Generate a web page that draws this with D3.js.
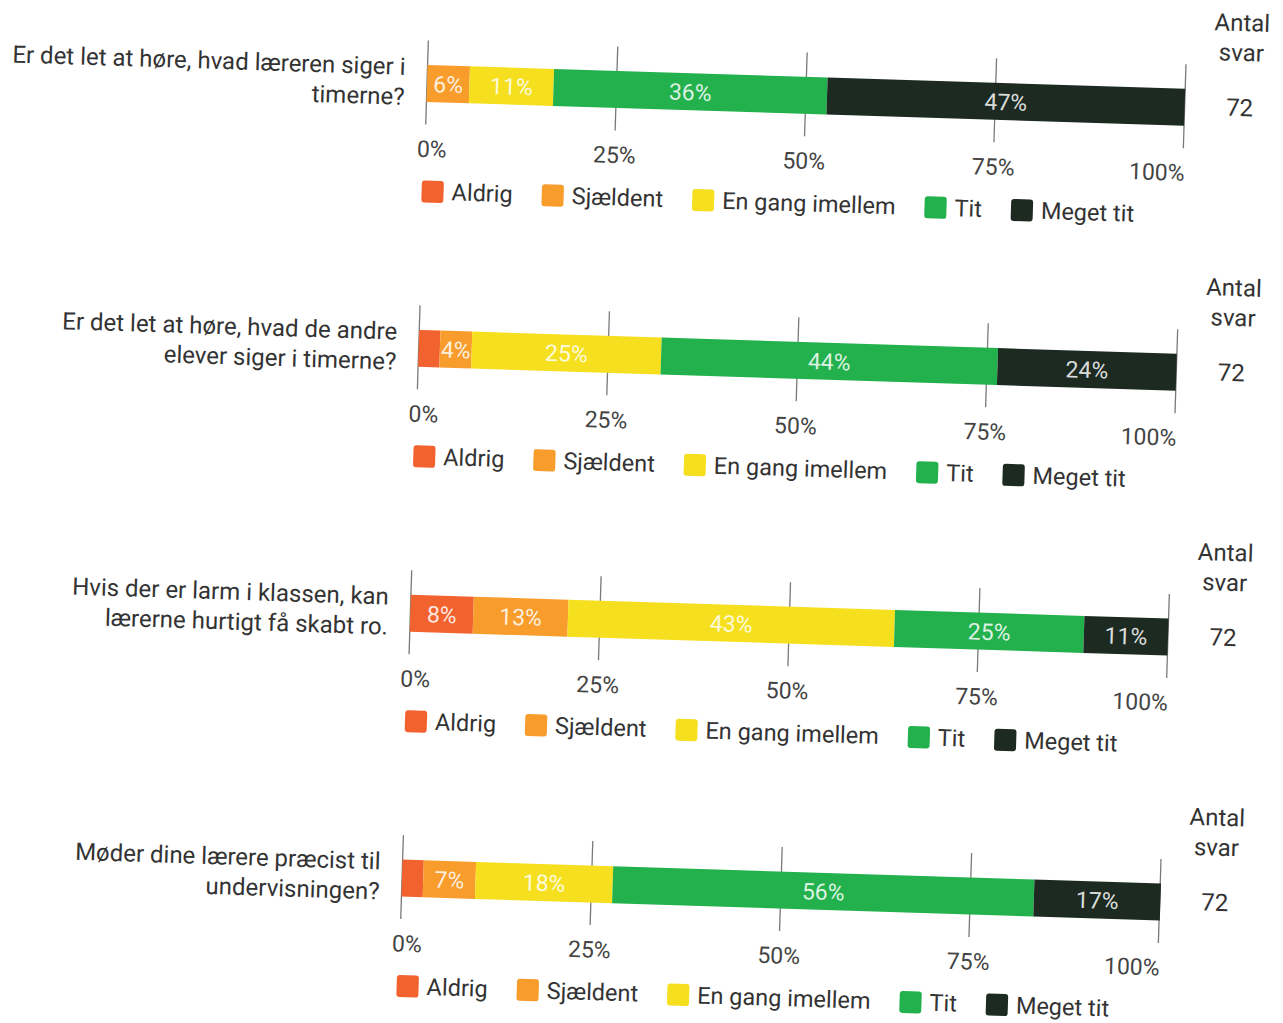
<!DOCTYPE html>
<html>
<head>
<meta charset="utf-8">
<script src="https://cdn.jsdelivr.net/npm/d3@7"></script>
<style>
  body { margin: 0; background: #fff; }
  text { font-family: Roboto, "Noto Sans", sans-serif; }
</style>
</head>
<body>
<div id="chart"></div>
<script>
// svarkategorier
const categories = ['Aldrig', 'Sjældent', 'En gang imellem', 'Tit', 'Meget tit'];
const colors = ['#f2622e', '#f89c2c', '#f5df1e', '#22b14c', '#1c2a22'];

const questions = [
  ['Er det let at høre, hvad læreren siger i', 'timerne?'],
  ['Er det let at høre, hvad de andre', 'elever siger i timerne?'],
  ['Hvis der er larm i klassen, kan', 'lærerne hurtigt få skabt ro.'],
  ['Møder dine lærere præcist til', 'undervisningen?']
];

// procent pr. kategori (Aldrig .. Meget tit)
const q1 = [0, 5.6, 11.1, 36.1, 47.2];
const q2 = [2.8, 4.2, 25.0, 44.4, 23.6];
const q3 = [8.3, 12.5, 43.1, 25.0, 11.1];
const q4 = [2.8, 6.9, 18.1, 55.6, 16.7];
const answers = [72, 72, 72, 72];

const ticks = [0, 25, 50, 75, 100];

const W = 1283, H = 1023;
const x0 = 427, x1 = 1185;
const top0 = 83.5, step = 265, barH = 37;

const svg = d3.select('#chart')
  .append('svg')
  .attr('width', W)
  .attr('height', H);

// scannet side er en smule skæv
const page = svg.append('g')
  .attr('transform', `rotate(1.8, ${x0}, ${top0})`);

const x = d3.scaleLinear().domain([0, 100]).range([x0, x1]);
const color = d3.scaleOrdinal(categories, colors);

const rows = [q1, q2, q3, q4].map(v => {
  const o = {};
  categories.forEach((c, i) => o[c] = v[i]);
  return o;
});
const series = d3.stack().keys(categories)(rows);

questions.forEach((q, i) => {
  const yc = top0 + i * step;
  const g = page.append('g');

  // spørgsmål
  g.selectAll('text.q')
    .data(q)
    .enter()
    .append('text')
    .attr('x', x0 - 22)
    .attr('y', (d, j) => yc - 16 + j * 30)
    .attr('text-anchor', 'end')
    .attr('dominant-baseline', 'central')
    .attr('fill', '#333')
    .style('font-size', '24px')
    .text(d => d);

  // gitterlinjer
  g.selectAll('line.tick')
    .data(ticks)
    .enter()
    .append('line')
    .attr('x1', d => x(d))
    .attr('x2', d => x(d))
    .attr('y1', yc - 43)
    .attr('y2', yc + 41)
    .attr('stroke', '#7a7a7a')
    .attr('stroke-width', 1.3);

  // søjlesegmenter
  const segs = series.map((s, k) => ({ key: s.key, k: k, a: s[i][0], b: s[i][1] }));
  g.selectAll('rect.seg')
    .data(segs)
    .enter()
    .append('rect')
    .attr('x', d => x(d.a))
    .attr('y', yc - barH / 2)
    .attr('width', d => x(d.b) - x(d.a))
    .attr('height', barH)
    .attr('fill', d => color(d.key));

  g.selectAll('text.pct')
    .data(segs.filter(d => d.b - d.a >= 3.5))
    .enter()
    .append('text')
    .attr('x', d => (x(d.a) + x(d.b)) / 2)
    .attr('y', yc + 1)
    .attr('text-anchor', 'middle')
    .attr('dominant-baseline', 'central')
    .attr('fill', '#fff')
    .attr('fill-opacity', 0.85)
    .style('font-size', '23px')
    .text(d => Math.round(d.b - d.a) + '%');

  // aksetekster
  g.selectAll('text.tl')
    .data(ticks)
    .enter()
    .append('text')
    .attr('x', d => d === 0 ? x(d) - 8 : d === 100 ? x(d) + 2 : x(d))
    .attr('y', yc + 66)
    .attr('text-anchor', d => d === 0 ? 'start' : d === 100 ? 'end' : 'middle')
    .attr('dominant-baseline', 'central')
    .attr('fill', '#444')
    .style('font-size', '23px')
    .text(d => d + '%');

  // antal svar
  const right = [['Antal', yc - 86], ['svar', yc - 56], [answers[i], yc - 1]];
  g.selectAll('text.n')
    .data(right)
    .enter()
    .append('text')
    .attr('x', 1240)
    .attr('y', d => d[1])
    .attr('text-anchor', 'middle')
    .attr('dominant-baseline', 'central')
    .attr('fill', '#333')
    .style('font-size', '24px')
    .text(d => d[0]);

  // signaturforklaring
  const leg = g.append('g');
  const ly = yc + 108;
  let lx = x0 - 2;
  categories.forEach(c => {
    leg.append('rect')
      .attr('x', lx)
      .attr('y', ly - 11)
      .attr('width', 22)
      .attr('height', 22)
      .attr('rx', 3)
      .attr('fill', color(c));
    const t = leg.append('text')
      .attr('x', lx + 30)
      .attr('y', ly)
      .attr('dominant-baseline', 'central')
      .attr('fill', '#333')
      .style('font-size', '23.5px')
      .text(c);
    lx += 30 + t.node().getComputedTextLength() + 29;
  });
});
</script>
</body>
</html>
